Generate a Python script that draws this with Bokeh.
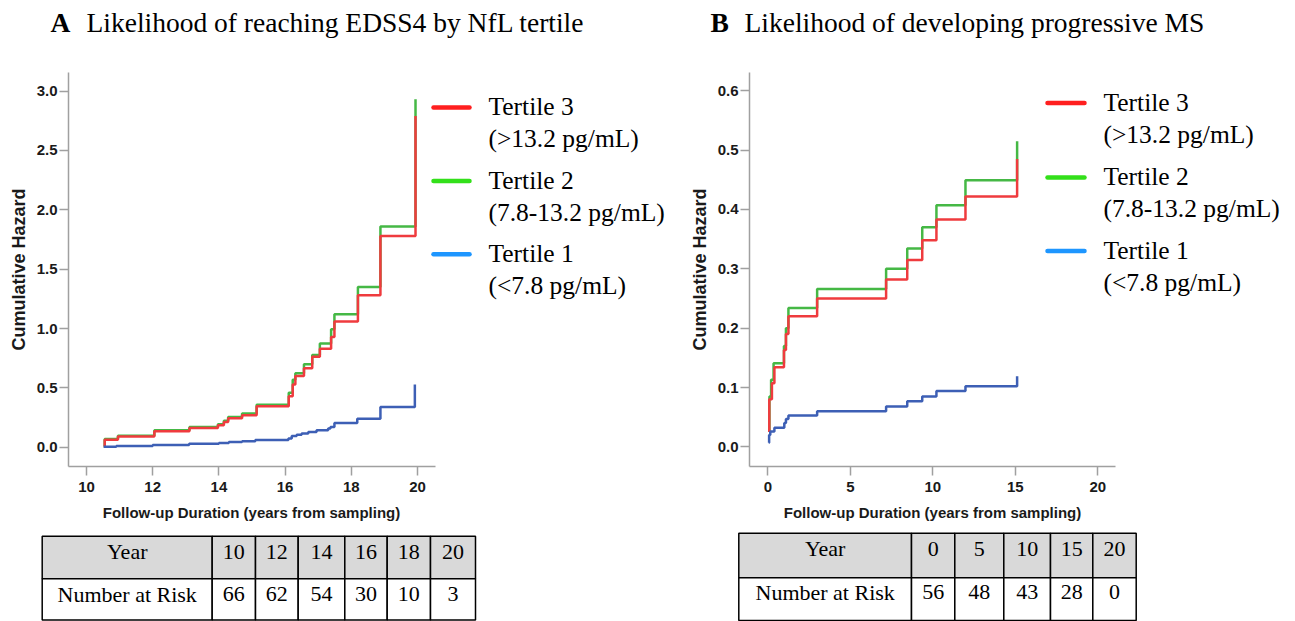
from bokeh.plotting import figure
from bokeh.layouts import row, column
from bokeh.models import Range1d, FixedTicker, NumeralTickFormatter
from bokeh.core.properties import value
from bokeh.embed import file_html
from bokeh.resources import INLINE

# ---------------- data ----------------
# Panel A: cumulative hazard of reaching EDSS4 (x = years from sampling)
a_t3_years = [10.52, 10.55, 10.95, 12.05, 13.11, 13.97, 14.15, 14.28, 14.70, 15.14,
              16.11, 16.23, 16.31, 16.57, 16.82, 17.05, 17.39, 17.49, 18.20, 18.88, 19.94]
a_t3_hazard = [0.01, 0.065, 0.092, 0.136, 0.163, 0.187, 0.214, 0.245, 0.27, 0.347,
               0.43, 0.53, 0.60, 0.667, 0.764, 0.83, 0.93, 1.06, 1.28, 1.78, 2.79]
a_t2_years = [10.52, 10.55, 10.95, 12.05, 13.11, 13.97, 14.15, 14.28, 14.70, 15.14,
              16.11, 16.23, 16.31, 16.57, 16.82, 17.05, 17.39, 17.49, 18.20, 18.88, 19.94]
a_t2_hazard = [0.01, 0.07, 0.097, 0.145, 0.172, 0.195, 0.225, 0.255, 0.285, 0.36,
               0.46, 0.57, 0.625, 0.70, 0.778, 0.875, 0.995, 1.12, 1.35, 1.86, 2.93]
a_t1_years = [10.52, 10.9, 12.0, 13.1, 14.0, 14.3, 14.7, 15.1, 16.1, 16.2, 16.35, 16.5,
              16.7, 16.95, 17.3, 17.37, 17.49, 18.18, 18.88, 19.92]
a_t1_hazard = [0.005, 0.012, 0.02, 0.03, 0.038, 0.045, 0.052, 0.062, 0.075, 0.095, 0.106,
               0.117, 0.13, 0.145, 0.158, 0.172, 0.205, 0.242, 0.34, 0.53]

# Panel B: cumulative hazard of developing progressive MS
b_t3_years = [0.08, 0.09, 0.25, 0.40, 0.98, 1.10, 1.25, 2.99, 7.17, 8.45, 9.36, 10.22, 11.98, 15.11]
b_t3_hazard = [0.025, 0.08, 0.107, 0.134, 0.163, 0.19, 0.22, 0.25, 0.282, 0.315, 0.348, 0.383, 0.422, 0.485]
b_t2_years = [0.08, 0.10, 0.20, 0.35, 0.98, 1.10, 1.25, 2.99, 7.17, 8.45, 9.36, 10.22, 11.98, 15.11]
b_t2_hazard = [0.025, 0.085, 0.113, 0.141, 0.17, 0.20, 0.234, 0.266, 0.30, 0.334, 0.37, 0.407, 0.449, 0.515]
b_t1_years = [0.06, 0.08, 0.15, 0.40, 1.00, 1.10, 1.25, 2.99, 7.17, 8.45, 9.36, 10.22, 11.98, 15.11]
b_t1_hazard = [0.007, 0.02, 0.026, 0.032, 0.04, 0.047, 0.053, 0.06, 0.068, 0.077, 0.085, 0.094, 0.102, 0.119]

# ticks
a_xticks = [10, 12, 14, 16, 18, 20]
a_yticks = [0.0, 0.5, 1.0, 1.5, 2.0, 2.5, 3.0]
b_xticks = [0, 5, 10, 15, 20]
b_yticks = [0.0, 0.1, 0.2, 0.3, 0.4, 0.5, 0.6]

# legend
legend_names = ["Tertile 3", "Tertile 2", "Tertile 1"]
legend_ranges = ["(>13.2 pg/mL)", "(7.8-13.2 pg/mL)", "(<7.8 pg/mL)"]

# number-at-risk tables
a_years = [10, 12, 14, 16, 18, 20]
a_at_risk = [66, 62, 54, 30, 10, 3]
b_years = [0, 5, 10, 15, 20]
b_at_risk = [56, 48, 43, 28, 0]

titles_letter = ["A", "B"]
titles_text = ["Likelihood of reaching EDSS4 by NfL tertile",
               "Likelihood of developing progressive MS"]
x_title = "Follow-up Duration (years from sampling)"
y_title = "Cumulative Hazard"

# ---------------- styles ----------------
LINE_RED, LINE_GREEN, LINE_BLUE = "#ef3b3e", "#45b845", "#3d5fb5"
LEG_COLORS = ["#ff1f1f", "#33e01a", "#1e96ff"]
AXIS_GREY = "#a0a0a0"
TXT = "#1a1a1a"
SANS = "Liberation Sans"
SERIF = "Liberation Serif"

PAGE_W, PAGE_H = 1295, 621
TOP_H, ROW_H = 50, 450
BOT_H = PAGE_H - TOP_H - ROW_H


class Mapper:
    """Converts page pixel positions (for annotation placement) into data values."""
    def __init__(self, px0, xv0, xppu, py0, yv0, yppu):
        self.px0, self.xv0, self.xppu = px0, xv0, xppu
        self.py0, self.yv0, self.yppu = py0, yv0, yppu

    def x(self, px):
        return self.xv0 + (px - self.px0) / self.xppu

    def y(self, py):
        return self.yv0 + (self.py0 - py) / self.yppu


def strip(top, height):
    s = figure(width=PAGE_W, height=height, output_backend="svg", toolbar_location=None,
               x_range=Range1d(0, PAGE_W), y_range=Range1d(top + height, top),
               x_axis_type=None, y_axis_type=None,
               min_border_left=0, min_border_right=0, min_border_top=0, min_border_bottom=0)
    s.outline_line_color = None
    s.grid.visible = False
    return s


def panel(fig_left, width, mb_left, frame_top, frame_bottom, m, axis_right_px,
          xticks, yticks, series, legend_geo):
    frame_left = fig_left + mb_left
    frame_right = fig_left + width
    p = figure(width=width, height=ROW_H, output_backend="svg", toolbar_location=None,
               x_range=Range1d(m.x(frame_left), m.x(frame_right)),
               y_range=Range1d(m.y(frame_bottom), m.y(frame_top)),
               min_border_left=mb_left, min_border_right=0,
               min_border_top=frame_top - TOP_H,
               min_border_bottom=TOP_H + ROW_H - frame_bottom)
    p.outline_line_color = None
    p.grid.visible = False

    for ax in (p.xaxis[0], p.yaxis[0]):
        ax.axis_line_color = AXIS_GREY
        ax.axis_line_width = 1.5
        ax.major_tick_line_color = AXIS_GREY
        ax.major_tick_line_width = 1.5
        ax.major_tick_in = 0
        ax.major_tick_out = 9
        ax.minor_tick_line_color = None
        ax.major_label_text_font = SANS
        ax.major_label_text_font_style = "bold"
        ax.major_label_text_font_size = "15px"
        ax.major_label_text_color = TXT
    p.xaxis.ticker = FixedTicker(ticks=xticks)
    p.yaxis.ticker = FixedTicker(ticks=yticks)
    p.yaxis.formatter = NumeralTickFormatter(format="0.0")
    p.xaxis.formatter = NumeralTickFormatter(format="0")
    p.xaxis.bounds = (m.x(frame_left), m.x(axis_right_px))
    p.xaxis.major_label_standoff = 6
    p.yaxis.major_label_standoff = 2
    p.yaxis.axis_label = y_title
    p.yaxis.axis_label_text_font = SANS
    p.yaxis.axis_label_text_font_style = "bold"
    p.yaxis.axis_label_text_font_size = "18px"
    p.yaxis.axis_label_text_color = TXT
    p.yaxis.axis_label_standoff = 5

    for xs, ys, col in series:
        p.step(x=xs, y=ys, mode="after", line_color=col, line_width=2.5)

    (lx0, lx1, txt_x, ys_px, gap) = legend_geo
    p.segment(x0=[m.x(lx0)] * 3, x1=[m.x(lx1)] * 3,
              y0=[m.y(v) for v in ys_px], y1=[m.y(v) for v in ys_px],
              line_color=LEG_COLORS, line_width=4.5, line_cap="round")
    tx_all, ty_all, tt_all = [], [], []
    for i, ypx in enumerate(ys_px):
        tx_all += [m.x(txt_x), m.x(txt_x)]
        ty_all += [m.y(ypx - 1), m.y(ypx - 1 + gap)]
        tt_all += [legend_names[i], legend_ranges[i]]
    p.text(x=tx_all, y=ty_all, text=tt_all, text_font=value(SERIF),
           text_font_size="25.5px", text_color="black", text_align="left",
           text_baseline="middle")
    return p


mA = Mapper(86.0, 10.0, 33.1, 446.7, 0.0, 120.0)
mB = Mapper(767.3, 0.0, 16.5, 447.3, 0.0, 595.0)

A_LEFT, A_W = 0, 681
B_LEFT, B_W = 681, PAGE_W - 681

pA = panel(A_LEFT, A_W, 68, 68, 466, mA, 435, a_xticks, a_yticks,
           [(a_t2_years, a_t2_hazard, LINE_GREEN), (a_t3_years, a_t3_hazard, LINE_RED),
            (a_t1_years, a_t1_hazard, LINE_BLUE)],
           (433, 469, 488, [103.3, 177.7, 251.7], 32.5))

pB = panel(B_LEFT, B_W, 68, 72, 467, mB, 1115, b_xticks, b_yticks,
           [(b_t2_years, b_t2_hazard, LINE_GREEN), (b_t3_years, b_t3_hazard, LINE_RED),
            (b_t1_years, b_t1_hazard, LINE_BLUE)],
           (1047, 1084, 1103, [102.7, 177.3, 251.0], 32.5))

# ---------------- titles strip ----------------
top = strip(0, TOP_H)
top.text(x=[50, 710], y=[22, 22], text=titles_letter, text_font=value(SERIF),
         text_font_style="bold", text_font_size="27.5px", text_color="black",
         text_align="left", text_baseline="middle")
top.text(x=[86, 744], y=[22, 22], text=titles_text, text_font=value(SERIF),
         text_font_size="27.5px", text_color="black", text_align="left",
         text_baseline="middle")

# ---------------- x titles + number-at-risk tables ----------------
bot = strip(TOP_H + ROW_H, BOT_H)
bot.text(x=[251, 932], y=[511.7, 511.7], text=[x_title, x_title], text_font=value(SANS),
         text_font_style="bold", text_font_size="15px", text_color=TXT,
         text_align="center", text_baseline="middle")


def draw_table(t, left, first_w, col_ws, top_y, mid_y, bottom_y, years, risks, text_dy):
    edges = [left, left + first_w]
    for w in col_ws:
        edges.append(edges[-1] + w)
    lefts, rights = edges[:-1], edges[1:]
    n = len(lefts)
    t.quad(left=lefts, right=rights, top=[top_y] * n, bottom=[mid_y] * n,
           fill_color="#d9d9d9", line_color="black", line_width=1.5)
    t.quad(left=lefts, right=rights, top=[mid_y] * n, bottom=[bottom_y] * n,
           fill_color="white", line_color="black", line_width=1.5)
    centers = [(a + b) / 2 for a, b in zip(lefts, rights)]
    hdr = ["Year"] + [str(v) for v in years]
    rsk = ["Number at Risk"] + [str(v) for v in risks]
    t.text(x=centers + centers, y=[top_y + text_dy[0]] * n + [mid_y + text_dy[1]] * n,
           text=hdr + rsk, text_font=value(SERIF), text_font_size="22px",
           text_color="black", text_align="center", text_baseline="middle")


draw_table(bot, 41.7, 170.0, [43.3, 42.7, 46.6, 42.4, 43.3, 45.0],
           535.7, 578.3, 619.5, a_years, a_at_risk, (15.5, 15.5))
draw_table(bot, 738.3, 172.7, [43.3, 49.0, 46.7, 42.3, 43.4],
           532.7, 577.3, 620.0, b_years, b_at_risk, (15.6, 14.4))

layout = column(top, row(pA, pB), bot)
open("out.html", "w").write(file_html(layout, INLINE))
